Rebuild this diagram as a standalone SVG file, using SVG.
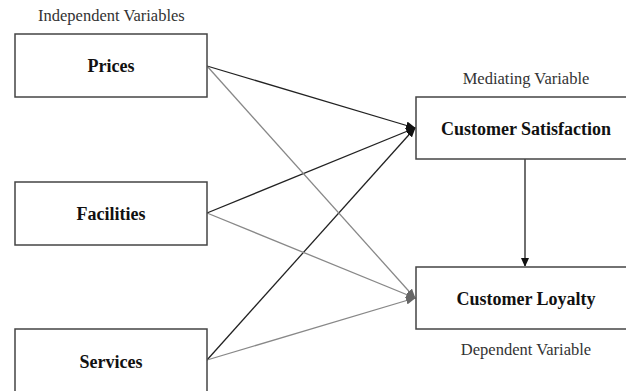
<svg xmlns="http://www.w3.org/2000/svg" width="626" height="391" viewBox="0 0 626 391">
<style>
.box{fill:#fff;stroke:#444;stroke-width:1.5}
.nt{font-family:"Liberation Serif",serif;font-weight:bold;font-size:18px;fill:#111;text-anchor:middle}
.lb{font-family:"Liberation Serif",serif;font-size:16.5px;fill:#333}
.dk{stroke:#222;stroke-width:1.3;fill:none}
.gr{stroke:#888;stroke-width:1.3;fill:none}
</style>
<defs>
<marker id="ah" markerWidth="10" markerHeight="8" refX="9" refY="4" orient="auto" markerUnits="userSpaceOnUse"><path d="M0,0 L10,4 L0,8 Z" fill="#111"/></marker>
<marker id="ag" markerWidth="10" markerHeight="8" refX="9" refY="4" orient="auto" markerUnits="userSpaceOnUse"><path d="M0,0 L10,4 L0,8 Z" fill="#666"/></marker>
<marker id="av" markerWidth="8" markerHeight="10" refX="8" refY="4" orient="auto" markerUnits="userSpaceOnUse"><path d="M0,0 L9,4 L0,8 Z" fill="#111"/></marker>
</defs>
<text class="lb" x="38" y="21">Independent Variables</text>
<text class="lb" x="526" y="84" text-anchor="middle">Mediating Variable</text>
<text class="lb" x="526" y="355" text-anchor="middle">Dependent Variable</text>
<g id="connectors">
<line class="dk" x1="207" y1="66" x2="415" y2="128" marker-end="url(#ah)"/>
<line class="dk" x1="207" y1="213" x2="415" y2="128" marker-end="url(#ah)"/>
<line class="dk" x1="207" y1="360" x2="415" y2="128" marker-end="url(#ah)"/>
<line class="gr" x1="207" y1="66" x2="415" y2="298" marker-end="url(#ag)"/>
<line class="gr" x1="207" y1="213" x2="415" y2="298" marker-end="url(#ag)"/>
<line class="gr" x1="207" y1="360" x2="415" y2="298" marker-end="url(#ag)"/>
<line class="dk" x1="525" y1="159" x2="525" y2="266" marker-end="url(#av)"/>
</g>
<g id="prices"><rect class="box" x="15" y="34" width="192" height="63"/><text class="nt" x="111" y="72">Prices</text></g>
<g id="facilities"><rect class="box" x="15" y="182" width="192" height="63"/><text class="nt" x="111" y="220">Facilities</text></g>
<g id="services"><rect class="box" x="15" y="329" width="192" height="64"/><text class="nt" x="111" y="368">Services</text></g>
<g id="satisfaction"><rect class="box" x="416" y="97" width="220" height="62"/><text class="nt" x="526" y="135">Customer Satisfaction</text></g>
<g id="loyalty"><rect class="box" x="416" y="267" width="220" height="62"/><text class="nt" x="526" y="305">Customer Loyalty</text></g>
</svg>
